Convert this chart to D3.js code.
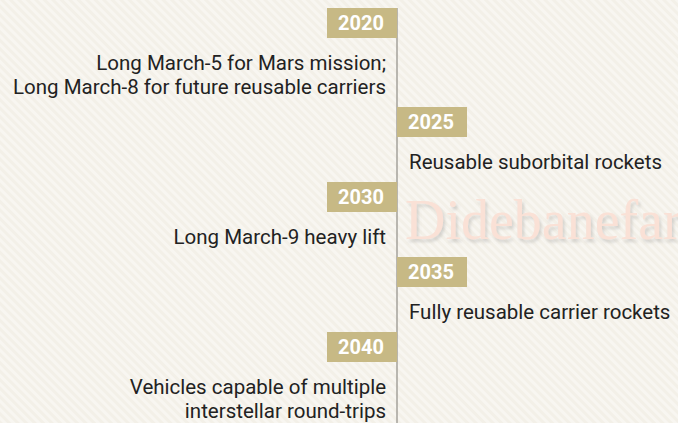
<!DOCTYPE html>
<html lang="en">
<head>
    <meta charset="UTF-8">
    <script src="https://cdn.jsdelivr.net/npm/d3@7"></script>
    <title>Rocket roadmap</title>
    <style>
        html, body {
            margin: 0;
            padding: 0;
            background: #f4f1e9;
        }
        .year-label {
            font-family: Roboto, sans-serif;
            font-weight: bold;
            font-size: 20px;
            fill: #fff;
        }
        .desc {
            font-family: Roboto, sans-serif;
            font-size: 20.5px;
            fill: #222;
        }
        .mark {
            font-family: "Liberation Serif", serif;
            font-size: 56px;
            fill: #fae1d6;
        }
    </style>
</head>
<body>
<svg id="chart"></svg>
<script>
    // timeline data
    var years = ["2020", "2025", "2030", "2035", "2040"];
    var sides = ["left", "right", "left", "right", "left"];
    var descriptions = [
        ["Long March-5 for Mars mission;", "Long March-8 for future reusable carriers"],
        ["Reusable suborbital rockets"],
        ["Long March-9 heavy lift"],
        ["Fully reusable carrier rockets"],
        ["Vehicles capable of multiple", "interstellar round-trips"]
    ];

    var width = 678, height = 423;
    var axisX = 397, boxW = 70, boxH = 30, lineH = 24, gap = 21, firstTop = 8;

    var svg = d3.select("#chart")
            .attr("width", width)
            .attr("height", height);

    var defs = svg.append("defs");
    var pat = defs.append("pattern")
            .attr("id", "stripes")
            .attr("patternUnits", "userSpaceOnUse")
            .attr("width", 6)
            .attr("height", 6)
            .attr("patternTransform", "rotate(45)");
    pat.append("rect").attr("width", 6).attr("height", 6).attr("fill", "#f3f0e8");
    pat.append("rect").attr("width", 6).attr("height", 3).attr("fill", "#f8f6f1");

    var shadow = defs.append("filter").attr("id", "shadow")
            .attr("x", "-5%").attr("y", "-20%").attr("width", "110%").attr("height", "150%");
    shadow.append("feDropShadow")
            .attr("dx", 2).attr("dy", 3).attr("stdDeviation", 1.5)
            .attr("flood-color", "#888").attr("flood-opacity", 0.3);

    svg.append("rect")
            .attr("width", width)
            .attr("height", height)
            .attr("fill", "url(#stripes)");

    // box tops stacked by the number of text lines above
    var tops = [];
    years.forEach(function (y, i) {
        tops.push(i === 0 ? firstTop : tops[i - 1] + boxH + descriptions[i - 1].length * lineH + gap);
    });
    var yScale = d3.scaleOrdinal().domain(years).range(tops);

    svg.append("text")
            .attr("class", "mark")
            .attr("x", 405)
            .attr("y", 239)
            .attr("filter", "url(#shadow)")
            .text("Didebanefarsi");

    svg.append("line")
            .attr("x1", axisX).attr("x2", axisX)
            .attr("y1", firstTop).attr("y2", height)
            .attr("stroke", "#a5a29b")
            .attr("stroke-width", 1.5);

    var item = svg.selectAll("g.item")
            .data(years)
            .enter().append("g")
            .attr("class", "item")
            .attr("transform", function (d) {
                return "translate(0," + yScale(d) + ")";
            });

    item.append("rect")
            .attr("x", function (d, i) {
                return sides[i] === "left" ? axisX - boxW : axisX;
            })
            .attr("width", boxW)
            .attr("height", boxH)
            .attr("fill", "#c7b985");

    item.append("text")
            .attr("class", "year-label")
            .attr("x", function (d, i) {
                return sides[i] === "left" ? axisX - boxW / 2 - 1 : axisX + boxW / 2 - 1;
            })
            .attr("y", 22)
            .attr("text-anchor", "middle")
            .text(function (d) {
                return d;
            });

    item.append("text")
            .attr("class", "desc")
            .attr("text-anchor", function (d, i) {
                return sides[i] === "left" ? "end" : "start";
            })
            .each(function (d, i) {
                var t = d3.select(this);
                descriptions[i].forEach(function (line, k) {
                    t.append("tspan")
                            .attr("x", sides[i] === "left" ? axisX - 11 : axisX + 12)
                            .attr("y", 62 + k * lineH)
                            .text(line);
                });
            });
</script>
</body>
</html>
